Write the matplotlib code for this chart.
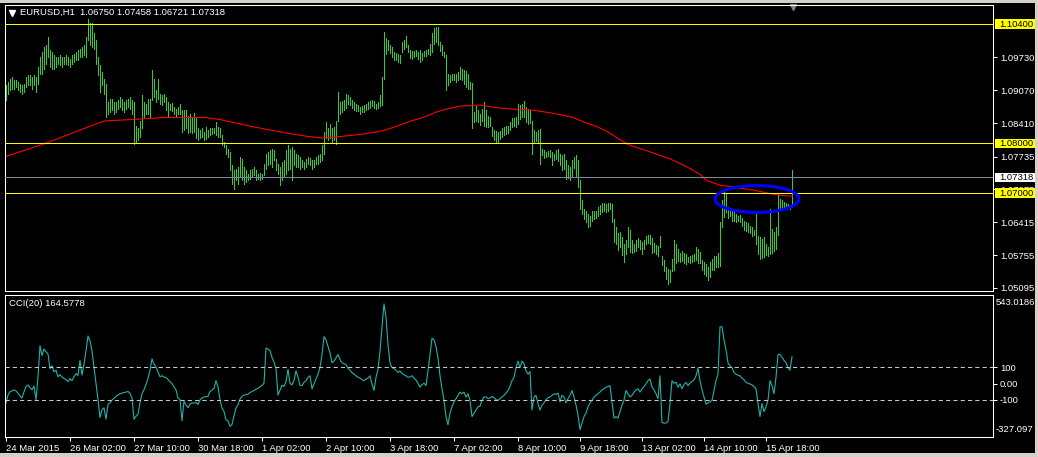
import matplotlib
matplotlib.use("Agg")
import matplotlib.pyplot as plt
from matplotlib.patches import Rectangle, Ellipse
from matplotlib.transforms import blended_transform_factory

plt.rcParams['font.family'] = ['Liberation Sans', 'DejaVu Sans']

# --- chart data ---
symbol = "EURUSD,H1"
last_ohlc = [1.06750, 1.07458, 1.06721, 1.07318]

highs = [
    1.0917, 1.0923, 1.0930, 1.0933, 1.0927, 1.0927, 1.0923, 1.0920, 1.0917, 1.0920,
    1.0933, 1.0937, 1.0937, 1.0933, 1.0937, 1.0933, 1.0954, 1.0974, 1.0984, 1.0994,
    1.0997, 1.1013, 1.0987, 1.0984, 1.0977, 1.0974, 1.0974, 1.0977, 1.0974, 1.0974,
    1.0977, 1.0974, 1.0970, 1.0977, 1.0980, 1.0984, 1.0987, 1.0990, 1.0994, 1.0997,
    1.1014, 1.1051, 1.1042, 1.1042, 1.1021, 1.1007, 1.0974, 1.0957, 1.0944, 1.0930,
    1.0920, 1.0883, 1.0890, 1.0890, 1.0883, 1.0883, 1.0887, 1.0893, 1.0890, 1.0883,
    1.0887, 1.0890, 1.0893, 1.0887, 1.0883, 1.0836, 1.0830, 1.0846, 1.0897, 1.0883,
    1.0880, 1.0890, 1.0890, 1.0947, 1.0930, 1.0907, 1.0930, 1.0900, 1.0897, 1.0900,
    1.0893, 1.0883, 1.0880, 1.0881, 1.0873, 1.0870, 1.0873, 1.0880, 1.0868, 1.0868,
    1.0867, 1.0856, 1.0860, 1.0853, 1.0861, 1.0853, 1.0830, 1.0826, 1.0830, 1.0823,
    1.0833, 1.0826, 1.0830, 1.0830, 1.0830, 1.0843, 1.0833, 1.0830, 1.0816, 1.0803,
    1.0796, 1.0789, 1.0783, 1.0756, 1.0746, 1.0749, 1.0753, 1.0773, 1.0769, 1.0753,
    1.0746, 1.0739, 1.0746, 1.0749, 1.0753, 1.0746, 1.0739, 1.0740, 1.0739, 1.0759,
    1.0779, 1.0783, 1.0786, 1.0789, 1.0786, 1.0769, 1.0759, 1.0753, 1.0763, 1.0766,
    1.0786, 1.0797, 1.0789, 1.0793, 1.0786, 1.0779, 1.0776, 1.0773, 1.0766, 1.0763,
    1.0769, 1.0773, 1.0771, 1.0767, 1.0766, 1.0773, 1.0776, 1.0779, 1.0796, 1.0823,
    1.0843, 1.0830, 1.0840, 1.0830, 1.0833, 1.0846, 1.0903, 1.0883, 1.0885, 1.0888,
    1.0900, 1.0897, 1.0893, 1.0887, 1.0883, 1.0880, 1.0877, 1.0873, 1.0875, 1.0877,
    1.0880, 1.0883, 1.0885, 1.0888, 1.0885, 1.0880, 1.0883, 1.0897, 1.0933, 1.1024,
    1.1011, 1.1007, 1.0997, 1.0994, 1.0984, 1.0982, 1.0979, 1.0977, 1.1004, 1.1007,
    1.1015, 1.0997, 1.0987, 1.0986, 1.0986, 1.0988, 1.0984, 1.0987, 1.0982, 1.0986,
    1.0988, 1.0990, 1.1000, 1.1021, 1.1031, 1.1034, 1.1034, 1.1004, 1.0997, 1.0984,
    1.0977, 1.0940, 1.0937, 1.0940, 1.0939, 1.0940, 1.0944, 1.0954, 1.0950, 1.0947,
    1.0946, 1.0940, 1.0923, 1.0921, 1.0863, 1.0875, 1.0867, 1.0860, 1.0870, 1.0883,
    1.0867, 1.0856, 1.0853, 1.0834, 1.0826, 1.0825, 1.0823, 1.0825, 1.0830, 1.0833,
    1.0836, 1.0836, 1.0843, 1.0852, 1.0852, 1.0853, 1.0880, 1.0877, 1.0880, 1.0885,
    1.0873, 1.0870, 1.0867, 1.0846, 1.0826, 1.0823, 1.0826, 1.0828, 1.0789, 1.0786,
    1.0783, 1.0785, 1.0787, 1.0783, 1.0779, 1.0786, 1.0789, 1.0779, 1.0776, 1.0779,
    1.0766, 1.0756, 1.0753, 1.0766, 1.0773, 1.0776, 1.0766, 1.0726, 1.0686, 1.0669,
    1.0665, 1.0659, 1.0655, 1.0664, 1.0665, 1.0665, 1.0672, 1.0676, 1.0680, 1.0680,
    1.0679, 1.0680, 1.0680, 1.0679, 1.0649, 1.0632, 1.0619, 1.0622, 1.0612, 1.0598,
    1.0605, 1.0632, 1.0625, 1.0605, 1.0598, 1.0605, 1.0609, 1.0605, 1.0602, 1.0605,
    1.0613, 1.0615, 1.0615, 1.0609, 1.0600, 1.0595, 1.0593, 1.0613, 1.0573, 1.0565,
    1.0552, 1.0548, 1.0545, 1.0567, 1.0605, 1.0598, 1.0588, 1.0580, 1.0584, 1.0580,
    1.0578, 1.0572, 1.0573, 1.0575, 1.0577, 1.0592, 1.0588, 1.0582, 1.0565, 1.0562,
    1.0557, 1.0552, 1.0562, 1.0567, 1.0573, 1.0573, 1.0580, 1.0642, 1.0686, 1.0706,
    1.0699, 1.0672, 1.0671, 1.0669, 1.0662, 1.0659, 1.0655, 1.0657, 1.0651, 1.0645,
    1.0642, 1.0640, 1.0635, 1.0632, 1.0627, 1.0660, 1.0613, 1.0611, 1.0607, 1.0611,
    1.0598, 1.0592, 1.0669, 1.0629, 1.0622, 1.0632, 1.0699, 1.0689, 1.0686, 1.0682,
    1.0680, 1.0679, 1.0676, 1.07458,
]

lows = [
    1.0887, 1.0900, 1.0907, 1.0910, 1.0910, 1.0913, 1.0907, 1.0903, 1.0900, 1.0903,
    1.0913, 1.0917, 1.0917, 1.0910, 1.0917, 1.0903, 1.0920, 1.0940, 1.0940, 1.0950,
    1.0960, 1.0974, 1.0954, 1.0950, 1.0950, 1.0954, 1.0960, 1.0957, 1.0954, 1.0960,
    1.0960, 1.0957, 1.0954, 1.0960, 1.0964, 1.0967, 1.0967, 1.0974, 1.0974, 1.0977,
    1.0974, 1.1007, 1.0997, 1.0994, 1.0990, 1.0960, 1.0937, 1.0903, 1.0917, 1.0900,
    1.0853, 1.0860, 1.0863, 1.0867, 1.0860, 1.0863, 1.0870, 1.0873, 1.0867, 1.0863,
    1.0870, 1.0873, 1.0870, 1.0860, 1.0799, 1.0803, 1.0806, 1.0813, 1.0830, 1.0853,
    1.0860, 1.0860, 1.0853, 1.0887, 1.0893, 1.0883, 1.0890, 1.0880, 1.0877, 1.0883,
    1.0867, 1.0853, 1.0867, 1.0865, 1.0860, 1.0856, 1.0860, 1.0860, 1.0823, 1.0826,
    1.0830, 1.0820, 1.0823, 1.0820, 1.0823, 1.0810, 1.0806, 1.0810, 1.0813, 1.0806,
    1.0808, 1.0813, 1.0816, 1.0818, 1.0820, 1.0816, 1.0813, 1.0812, 1.0796, 1.0793,
    1.0779, 1.0773, 1.0746, 1.0719, 1.0709, 1.0726, 1.0719, 1.0732, 1.0726, 1.0719,
    1.0722, 1.0726, 1.0729, 1.0732, 1.0736, 1.0726, 1.0729, 1.0727, 1.0729, 1.0736,
    1.0749, 1.0756, 1.0759, 1.0753, 1.0766, 1.0746, 1.0739, 1.0716, 1.0726, 1.0732,
    1.0739, 1.0746, 1.0749, 1.0726, 1.0756, 1.0753, 1.0753, 1.0749, 1.0753, 1.0749,
    1.0753, 1.0759, 1.0756, 1.0749, 1.0753, 1.0759, 1.0759, 1.0763, 1.0766, 1.0779,
    1.0810, 1.0806, 1.0810, 1.0803, 1.0806, 1.0798, 1.0846, 1.0860, 1.0863, 1.0867,
    1.0872, 1.0880, 1.0877, 1.0872, 1.0868, 1.0865, 1.0865, 1.0860, 1.0863, 1.0863,
    1.0867, 1.0870, 1.0872, 1.0875, 1.0872, 1.0870, 1.0872, 1.0875, 1.0877, 1.0930,
    1.0980, 1.0987, 1.0982, 1.0974, 1.0967, 1.0968, 1.0964, 1.0962, 1.0984, 1.0990,
    1.0994, 1.0984, 1.0972, 1.0970, 1.0974, 1.0975, 1.0970, 1.0964, 1.0967, 1.0975,
    1.0975, 1.0979, 1.0977, 1.0984, 1.1000, 1.1004, 1.0997, 1.0986, 1.0977, 1.0974,
    1.0907, 1.0917, 1.0923, 1.0927, 1.0927, 1.0923, 1.0928, 1.0930, 1.0927, 1.0920,
    1.0913, 1.0910, 1.0910, 1.0830, 1.0843, 1.0846, 1.0843, 1.0838, 1.0846, 1.0836,
    1.0833, 1.0833, 1.0836, 1.0814, 1.0806, 1.0801, 1.0803, 1.0808, 1.0813, 1.0816,
    1.0818, 1.0821, 1.0826, 1.0833, 1.0836, 1.0834, 1.0840, 1.0850, 1.0853, 1.0854,
    1.0843, 1.0840, 1.0841, 1.0779, 1.0803, 1.0805, 1.0803, 1.0759, 1.0776, 1.0771,
    1.0773, 1.0774, 1.0773, 1.0756, 1.0766, 1.0769, 1.0765, 1.0756, 1.0746, 1.0749,
    1.0729, 1.0731, 1.0727, 1.0732, 1.0751, 1.0732, 1.0712, 1.0669, 1.0659, 1.0649,
    1.0642, 1.0632, 1.0635, 1.0645, 1.0649, 1.0651, 1.0655, 1.0659, 1.0662, 1.0665,
    1.0662, 1.0665, 1.0669, 1.0642, 1.0602, 1.0598, 1.0585, 1.0592, 1.0575, 1.0562,
    1.0578, 1.0592, 1.0582, 1.0580, 1.0582, 1.0584, 1.0592, 1.0588, 1.0577, 1.0588,
    1.0597, 1.0600, 1.0598, 1.0580, 1.0582, 1.0578, 1.0573, 1.0592, 1.0555, 1.0544,
    1.0528, 1.0517, 1.0521, 1.0544, 1.0545, 1.0560, 1.0563, 1.0562, 1.0563, 1.0560,
    1.0558, 1.0562, 1.0560, 1.0562, 1.0563, 1.0565, 1.0560, 1.0560, 1.0545, 1.0538,
    1.0533, 1.0526, 1.0531, 1.0545, 1.0546, 1.0552, 1.0552, 1.0553, 1.0632, 1.0652,
    1.0662, 1.0651, 1.0655, 1.0644, 1.0645, 1.0642, 1.0644, 1.0642, 1.0635, 1.0625,
    1.0624, 1.0622, 1.0619, 1.0613, 1.0615, 1.0598, 1.0578, 1.0567, 1.0569, 1.0572,
    1.0575, 1.0573, 1.0577, 1.0580, 1.0584, 1.0588, 1.0615, 1.0671, 1.0669, 1.0671,
    1.0672, 1.0671, 1.0669, 1.06721,
]

# red moving average, read at sample bars
ma_bar = [0, 19, 41, 49, 63, 79, 100, 107, 116, 128, 140, 151, 158, 165, 177,
          188, 192, 201, 209, 215, 221, 227, 237, 245, 253, 263, 273, 283, 289,
          296, 301, 306, 311, 316, 322, 332, 340, 347, 350, 357, 366, 374, 381,
          386, 393]
ma_val = [1.0774, 1.0799, 1.0833, 1.0845, 1.0848, 1.0852, 1.0852, 1.0848, 1.0840,
          1.0830, 1.0821, 1.0814, 1.0811, 1.0813, 1.0818, 1.0825, 1.0830, 1.0843,
          1.0853, 1.0863, 1.0870, 1.0875, 1.0877, 1.0872, 1.0869, 1.0867, 1.0861,
          1.0853, 1.0843, 1.0833, 1.0823, 1.0810, 1.0798, 1.0791, 1.0783, 1.0769,
          1.0754, 1.0738, 1.0726, 1.0716, 1.0711, 1.0706, 1.0700, 1.0696, 1.0694]

cci_period = 20
cci = [
    -118, -70, -50, -45, -38, -45, -58, -75, -88, -50,
    -18, -8, -25, -38, -15, -98, 40, 232, 172, 212,
    195, 182, 92, 110, 72, 82, 42, 55, 40, 32,
    25, 12, 30, 18, 42, 62, 50, 142, 52, 120,
    200, 292, 262, 200, 102, 0, -98, -208, -160, -148,
    -218, -128, -118, -100, -90, -78, -70, -62, -58, -55,
    -52, -48, -60, -88, -218, -200, -188, -118, -60, -38,
    -5, 32, 82, 152, 120, 102, 70, 42, 48, 40,
    38, 25, 12, 0, -20, -38, -88, -98, -228, -108,
    -130, -148, -125, -118, -120, -115, -128, -100, -88, -82,
    -80, -78, -48, -40, -28, 18, -20, -98, -150, -170,
    -222, -228, -262, -250, -198, -150, -130, -95, -78, -70,
    -68, -65, -55, -48, -42, -35, -28, -20, -10, 2,
    218, 212, 202, 160, 132, 92, -70, -40, -10, -18,
    12, 88, 2, -8, 20, 78, 40, -10, -12, 8,
    18, 38, 48, -32, -2, 28, 58, 98, 178, 288,
    268, 228, 188, 128, 138, 158, 178, 148, 128, 122,
    118, 94, 82, 68, 58, 48, 38, 34, 24, 18,
    28, 34, 48, -2, -42, 38, 88, 198, 348, 488,
    408, 238, 128, 98, 92, 82, 68, 78, 62, 54,
    48, 38, 42, 48, 34, 22, 2, -22, -6, 2,
    -12, 78, 178, 278, 268, 228, 158, 48, -32, -102,
    -202, -252, -182, -142, -112, -92, -72, -52, -62, -52,
    -82, -62, -102, -202, -182, -162, -142, -138, -102, -82,
    -82, -92, -88, -78, -86, -98, -102, -92, -82, -72,
    -58, -42, -18, 18, 38, 98, 138, 98, 138, 122,
    78, 58, 74, -162, -82, -72, -122, -162, -132, -118,
    -98, -86, -82, -72, -62, -66, -58, -112, -72, -82,
    -118, -92, -72, -42, -82, -132, -192, -282, -242, -202,
    -182, -142, -118, -102, -82, -72, -62, -52, -38, -32,
    -22, -18, -12, -112, -212, -202, -212, -172, -132, -102,
    -42, -62, -82, -72, -52, -38, -32, -52, -32, -18,
    -2, 18, 28, -22, -38, -62, -92, 48, -238, -242,
    -242, -232, -122, 18, 2, 8, -22, -2, -32, -6,
    8, -12, 2, 14, 22, 48, 94, 18, -38, -82,
    -126, -118, -112, -102, -42, 18, 58, 348, 348, 268,
    208, 128, 108, 98, 68, 58, 52, 48, 34, 24,
    8, 2, -2, -8, -18, -32, -122, -202, -122, -172,
    -142, -102, 18, -12, -62, 38, 178, 178, 162, 142,
    128, 98, 82, 164.5778,
]

level_prices = [1.10400, 1.08000, 1.07000]
price_ticks = [1.09730, 1.09070, 1.08410, 1.07735, 1.07075, 1.06415, 1.05755, 1.05095]
price_range = [1.05034, 1.10782]

cci_levels = [100, -100]
cci_ticks = [100, 0, -100]
cci_tick_labels = ['100', '0.00', '-100']
cci_range = [-327.097, 543.0186]

time_ticks = [0, 32, 64, 96, 128, 160, 192, 224, 256, 287, 318, 349, 380]
time_labels = ['24 Mar 2015', '26 Mar 02:00', '27 Mar 10:00', '30 Mar 18:00',
               '1 Apr 02:00', '2 Apr 10:00', '3 Apr 18:00', '7 Apr 02:00',
               '8 Apr 10:00', '9 Apr 18:00', '13 Apr 02:00', '14 Apr 10:00',
               '15 Apr 18:00']

assert len(highs) == len(lows) == len(cci)

# --- layout in pixels ---
W, H = 1038, 457
FS = 6.8
BAR_GREEN = '#32cd32'

fig = plt.figure(figsize=(W / 100, H / 100), dpi=100, facecolor='black')


def px_axes(x0, y0, x1, y1):
    return fig.add_axes([x0 / W, 1 - y1 / H, (x1 - x0) / W, (y1 - y0) / H])


ax = px_axes(5, 5, 993, 291)
ax2 = px_axes(5, 295, 993, 437)

for a in (ax, ax2):
    a.set_facecolor('black')
    a.set_xlim(-0.5, 493.5)
    for s in a.spines.values():
        s.set_color('white')
        s.set_linewidth(0.75)
    a.yaxis.tick_right()
    a.tick_params(axis='both', colors='white', direction='out', length=3,
                  width=0.75, labelsize=FS, pad=2)

xs = list(range(len(highs)))

# main price window
ax.set_ylim(*price_range)
ax.set_xticks([])
ax.set_yticks(price_ticks)
ax.set_yticklabels(['%.5f' % p for p in price_ticks])

ax.vlines(xs, lows, highs, colors=BAR_GREEN, linewidth=0.5,
          antialiased=False, zorder=2)
ax.plot(ma_bar, ma_val, color='#ff0000', linewidth=0.8, zorder=2.2)

for p in level_prices:
    ax.axhline(p, color='#ffff00', linewidth=0.72, antialiased=False, zorder=3)
ax.axhline(last_ohlc[3], color='#778899', linewidth=0.72, antialiased=False,
           zorder=3)

ax.add_patch(Ellipse((375.5, 1.06883), width=42, height=0.0054, fill=False,
                     edgecolor='#0000ff', linewidth=2.2, zorder=4))

# price-level tags on the right scale
bt = blended_transform_factory(ax.transAxes, ax.transData)
px_x = 1.0 / 988
px_y = (price_range[1] - price_range[0]) / 286
tags = [(p, '#ffff00') for p in level_prices] + [(last_ohlc[3], '#ffffff')]
for p, fc in tags:
    ax.add_patch(Rectangle((1 + 2 * px_x, p - 4.8 * px_y), 42 * px_x, 9.6 * px_y,
                           transform=bt, facecolor=fc, edgecolor='none',
                           clip_on=False, zorder=5))
    ax.annotate('%.5f' % p, xy=(1, p), xycoords=('axes fraction', 'data'),
                xytext=(6, 0), textcoords='offset pixels', color='black',
                fontsize=FS, va='center', ha='left', zorder=6,
                annotation_clip=False)

# header
ax.plot([6.5 / 988], [1 - 7.5 / 286], marker='v', color='white', markersize=4,
        transform=ax.transAxes, clip_on=False)
ax.annotate('%s  %s' % (symbol, ' '.join('%.5f' % v for v in last_ohlc)),
            xy=(0, 1), xycoords='axes fraction', xytext=(15.5, -7.5),
            textcoords='offset pixels', color='white', fontsize=FS,
            va='center', ha='left')
# chart shift marker
ax.plot([788 / 988], [1 - 2 / 286], marker='v', color='#808080', markersize=5,
        transform=ax.transAxes, clip_on=False)

# CCI window
ax2.set_ylim(*cci_range)
ax2.plot(xs, cci, color='#20b2aa', linewidth=0.8)
for lv in cci_levels:
    ax2.axhline(lv, color='#c8c8c8', linewidth=0.75, linestyle=(0, (4, 3)))
ax2.set_yticks(cci_ticks)
ax2.set_yticklabels(cci_tick_labels)
ax2.annotate('%.4f' % cci_range[1], xy=(1, 1), xycoords='axes fraction',
             xytext=(3, -3), textcoords='offset pixels', color='white',
             fontsize=FS, va='top', ha='left', annotation_clip=False)
ax2.annotate('%.3f' % cci_range[0], xy=(1, 0), xycoords='axes fraction',
             xytext=(3, 3), textcoords='offset pixels', color='white',
             fontsize=FS, va='bottom', ha='left', annotation_clip=False)
ax2.annotate('CCI(%d) %.4f' % (cci_period, cci[-1]), xy=(0, 1),
             xycoords='axes fraction', xytext=(4, -9), textcoords='offset pixels',
             color='white', fontsize=FS, va='center', ha='left')

ax2.set_xticks(time_ticks)
ax2.set_xticklabels(time_labels)
for lbl in ax2.get_xticklabels():
    lbl.set_horizontalalignment('left')

# window border (MT4 frame)
for x0, y0, w, h in [(0, 0, W, 3), (0, 453, W, 4), (1035, 0, 3, H)]:
    fig.add_artist(Rectangle((x0 / W, 1 - (y0 + h) / H), w / W, h / H,
                             transform=fig.transFigure, facecolor='#d4d0c8',
                             edgecolor='none', zorder=10))

fig.savefig('out.png', dpi=100, facecolor='black')
